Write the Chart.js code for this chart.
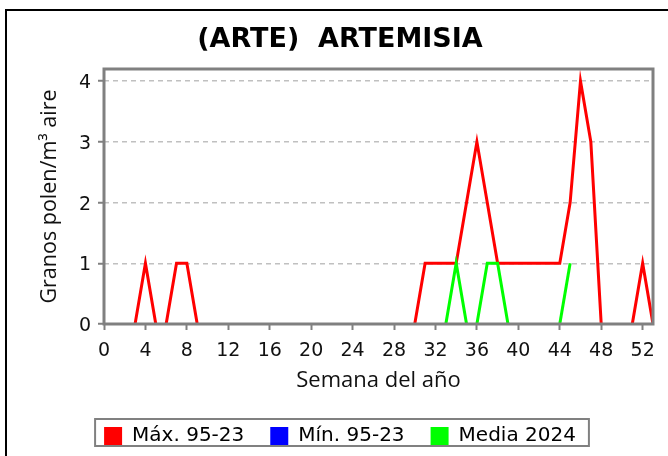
<!DOCTYPE html>
<html>
<head>
<meta charset="utf-8">
<script src="https://cdn.jsdelivr.net/npm/chart.js@4/dist/chart.umd.min.js"></script>
<style>
  html, body { margin: 0; padding: 0; background: #ffffff; }
  #wrap { width: 668px; height: 456px; }
</style>
</head>
<body>
<div id="wrap"><canvas id="c" width="668" height="456"></canvas></div>
<script>
const chartTitle = '(ARTE)  ARTEMISIA';
const xTitle = 'Semana del año';
const yTitle = 'Granos polen/m³ aire';
const seriesNames = ['Máx. 95-23', 'Mín. 95-23', 'Media 2024'];
const seriesColors = ['#ff0000', '#0000ff', '#00ff00'];

const weeks = [1,2,3,4,5,6,7,8,9,10,11,12,13,14,15,16,17,18,19,20,21,22,23,24,25,26,27,28,29,30,31,32,33,34,35,36,37,38,39,40,41,42,43,44,45,46,47,48,49,50,51,52,53];

const maxValues = [0,0,0,1,0,0,1,1,0,0,0,0,0,0,0,0,0,0,0,0,0,0,0,0,0,0,0,0,0,0,1,1,1,1,2,3,2,1,1,1,1,1,1,1,2,4,3,0,0,0,0,1,0];
const minValues = [0,0,0,0,0,0,0,0,0,0,0,0,0,0,0,0,0,0,0,0,0,0,0,0,0,0,0,0,0,0,0,0,0,0,0,0,0,0,0,0,0,0,0,0,0,0,0,0,0,0,0,0,0];
const media2024 = [0,0,0,0,0,0,0,0,0,0,0,0,0,0,0,0,0,0,0,0,0,0,0,0,0,0,0,0,0,0,0,0,0,1,0,0,1,1,0,0,0,0,0,0,1];

const xTicks = [0,4,8,12,16,20,24,28,32,36,40,44,48,52];
const yTicks = [0,1,2,3,4];

function toPoints(vals) { return vals.map((v, i) => ({x: weeks[i], y: v})); }

const frameAndLegendBox = {
  id: 'frameAndLegendBox',
  beforeDraw(chart) {
    const ctx = chart.ctx;
    ctx.save();
    ctx.strokeStyle = '#000000';
    ctx.lineWidth = 2;
    ctx.strokeRect(6, 10, 700, 500);
    ctx.restore();
  },
  afterDatasetsDraw(chart) {
    const a = chart.chartArea;
    const ctx = chart.ctx;
    ctx.save();
    ctx.strokeStyle = '#808080';
    ctx.lineWidth = 3;
    ctx.strokeRect(a.left, a.top, a.right - a.left, a.bottom - a.top);
    ctx.restore();
  },
  afterDraw(chart) {
    const lg = chart.legend;
    if (!lg || !lg.legendHitBoxes || !lg.legendHitBoxes.length) return;
    const hb = lg.legendHitBoxes;
    let l = Infinity, r = -Infinity, t = Infinity, b = -Infinity;
    hb.forEach(h => { l = Math.min(l, h.left); r = Math.max(r, h.left + h.width); t = Math.min(t, h.top); b = Math.max(b, h.top + h.height); });
    const ctx = chart.ctx;
    ctx.save();
    ctx.strokeStyle = '#808080';
    ctx.lineWidth = 2;
    ctx.strokeRect(l - 9, t - 7, (r + 13) - (l - 9), (b) - (t - 7));
    ctx.restore();
  }
};

// segments lying on the zero baseline are hidden behind the axis in the reference
const hideBaseline = { borderColor: (c) => (c.p0.parsed.y === 0 && c.p1.parsed.y === 0) ? 'rgba(0,0,0,0)' : undefined };

const datasets = [
  { label: seriesNames[0], data: toPoints(maxValues), borderColor: seriesColors[0], backgroundColor: seriesColors[0], order: 2 },
  { label: seriesNames[1], data: toPoints(minValues), borderColor: seriesColors[1], backgroundColor: seriesColors[1], order: 1 },
  { label: seriesNames[2], data: toPoints(media2024), borderColor: seriesColors[2], backgroundColor: seriesColors[2], order: 0 }
].map(d => Object.assign(d, { borderWidth: 3, pointRadius: 0, pointHoverRadius: 0, tension: 0, fill: false, segment: hideBaseline }));

new Chart(document.getElementById('c'), {
  type: 'line',
  data: { datasets },
  plugins: [frameAndLegendBox],
  options: {
    responsive: false,
    animation: false,
    devicePixelRatio: 1,
    events: [],
    layout: { padding: { left: 27, right: 15, top: 0, bottom: 0 } },
    plugins: {
      tooltip: { enabled: false },
      title: {
        display: true,
        text: chartTitle,
        color: '#000000',
        font: { family: 'DejaVu Sans', size: 27, weight: 'bold' },
        padding: { top: 24, bottom: 12.6 }
      },
      legend: {
        display: true,
        position: 'bottom',
        labels: {
          font: { family: 'DejaVu Sans', size: 20 },
          color: '#111111',
          boxWidth: 18,
          boxHeight: 18,
          padding: 26,
          generateLabels: (chart) => chart.data.datasets.map((d, i) => ({
            text: d.label, fillStyle: d.borderColor, strokeStyle: d.borderColor, lineWidth: 0, hidden: false, datasetIndex: i
          })),
          sort: (a, b) => a.datasetIndex - b.datasetIndex
        }
      }
    },
    scales: {
      x: {
        type: 'linear',
        min: 0,
        max: 53,
        afterFit: (s) => { s.height = 76; },
        afterBuildTicks: (s) => { s.ticks = xTicks.map(v => ({ value: v })); },
        ticks: { font: { family: 'DejaVu Sans', size: 19 }, color: '#111111', padding: 10, maxRotation: 0, autoSkip: false },
        grid: { drawOnChartArea: false, drawTicks: true, tickLength: 6, tickColor: '#808080', tickWidth: 2, color: '#808080' },
        border: { display: false },
        title: { display: true, text: xTitle, color: '#111111', font: { family: 'Open Sans', size: 22 }, padding: { top: 0, bottom: 6 } }
      },
      y: {
        type: 'linear',
        min: 0,
        max: 4.2,
        afterFit: (s) => { s.width = 77; },
        afterBuildTicks: (s) => { s.ticks = yTicks.map(v => ({ value: v })); },
        ticks: { font: { family: 'DejaVu Sans', size: 19 }, color: '#111111', padding: 7, labelOffset: 2, autoSkip: false },
        grid: { drawOnChartArea: true, drawTicks: true, tickLength: 6, tickColor: '#808080', tickWidth: 2, color: '#c0c0c0', lineWidth: 1.5, tickBorderDash: [] },
        border: { display: false, dash: [5, 4] },
        title: { display: true, text: yTitle, color: '#111111', font: { family: 'Open Sans', size: 21.5 }, padding: { top: 10, bottom: 0 } }
      }
    }
  }
});
</script>
</body>
</html>
